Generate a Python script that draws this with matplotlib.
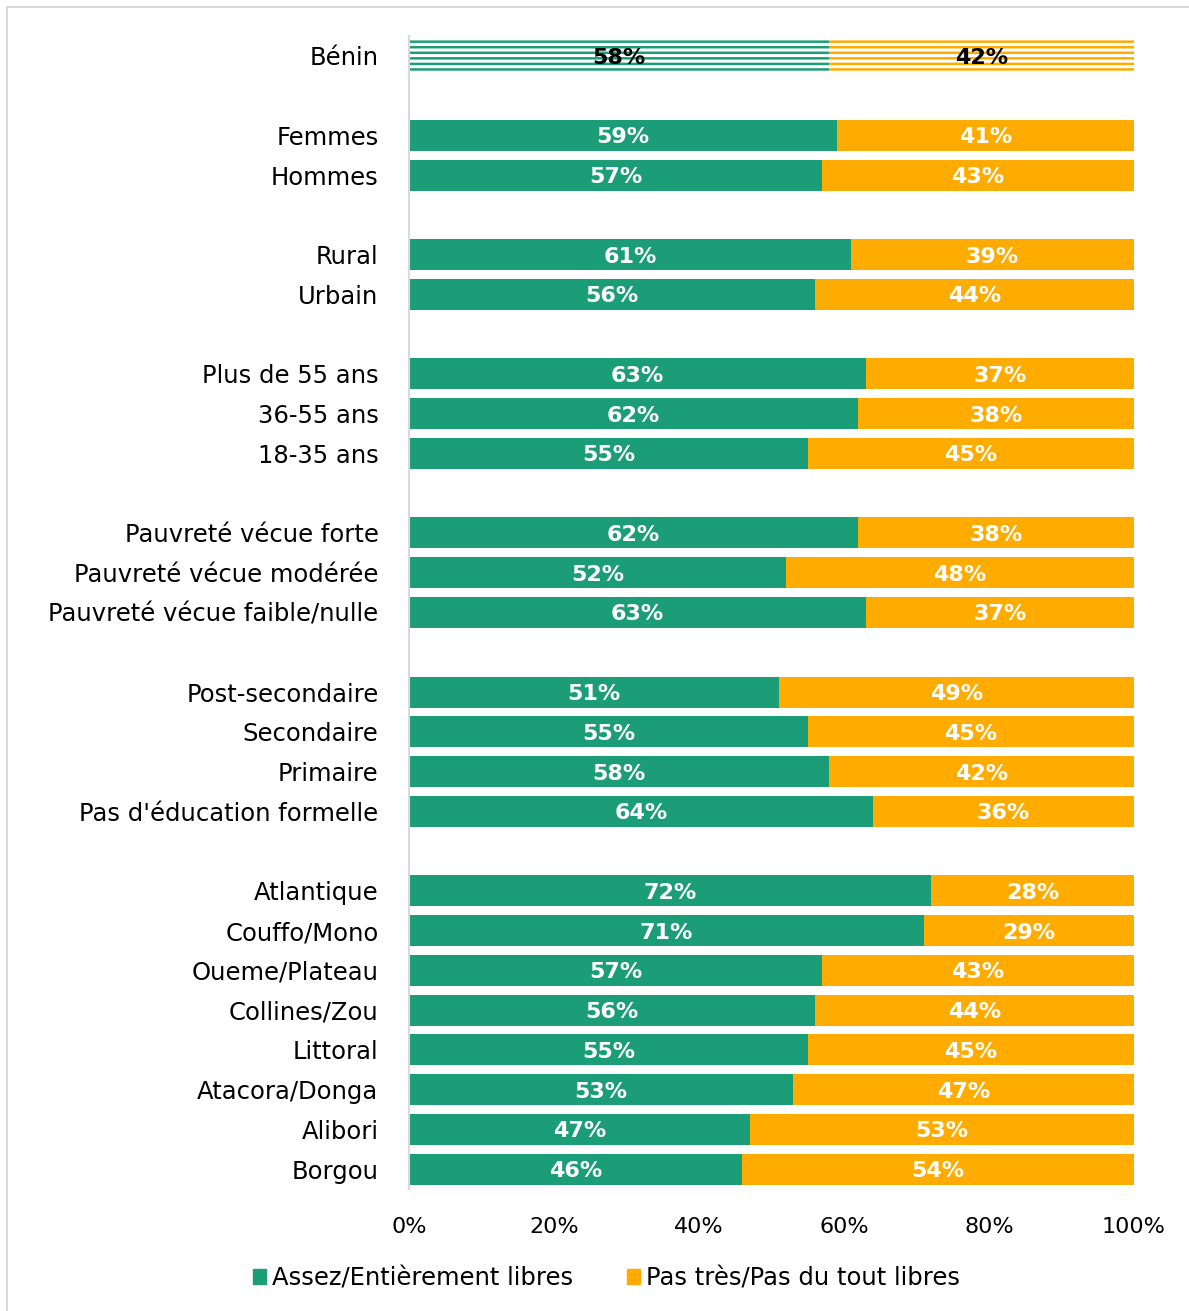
import matplotlib.pyplot as plt
import matplotlib.patches as mpatches

plt.rcParams["font.family"] = ["DejaVu Sans"]
plt.rcParams["hatch.linewidth"] = 1.8

GREEN = "#1b9e77"
ORANGE = "#ffab00"

labels = [
    "Bénin",
    "Femmes", "Hommes",
    "Rural", "Urbain",
    "Plus de 55 ans", "36-55 ans", "18-35 ans",
    "Pauvreté vécue forte", "Pauvreté vécue modérée", "Pauvreté vécue faible/nulle",
    "Post-secondaire", "Secondaire", "Primaire", "Pas d'éducation formelle",
    "Atlantique", "Couffo/Mono", "Oueme/Plateau", "Collines/Zou", "Littoral",
    "Atacora/Donga", "Alibori", "Borgou",
]
libres = [58, 59, 57, 61, 56, 63, 62, 55, 62, 52, 63, 51, 55, 58, 64,
          72, 71, 57, 56, 55, 53, 47, 46]
pas_libres = [42, 41, 43, 39, 44, 37, 38, 45, 38, 48, 37, 49, 45, 42, 36,
              28, 29, 43, 44, 45, 47, 53, 54]
# group sizes (blank row between groups)
groups = [1, 2, 2, 3, 3, 4, 8]

rows = []
pos = 0
for g in groups:
    for i in range(g):
        rows.append(pos)
        pos += 1
    pos += 1

fig = plt.figure(figsize=(11.89, 13.11), dpi=100)
ax = fig.add_axes([0.344, 0.0931, 0.6097, 0.8794])

h = 0.78
for k, (y, a, b) in enumerate(zip(rows, libres, pas_libres)):
    if k == 0:
        ax.barh(y, a, height=h, color="white", edgecolor=GREEN, hatch="---", linewidth=0)
        ax.barh(y, b, left=a, height=h, color="white", edgecolor=ORANGE, hatch="---", linewidth=0)
        tc = "black"
    else:
        ax.barh(y, a, height=h, color=GREEN, linewidth=0)
        ax.barh(y, b, left=a, height=h, color=ORANGE, linewidth=0)
        tc = "white"
    ax.text(a / 2, y + 0.05, f"{a}%", ha="center", va="center", color=tc,
            fontsize=16, fontweight="bold")
    ax.text(a + b / 2, y + 0.05, f"{b}%", ha="center", va="center", color=tc,
            fontsize=16, fontweight="bold")

ax.set_ylim(rows[-1] + 0.5, -0.5)
ax.set_xlim(0, 100)
ax.set_yticks(rows)
ax.set_yticklabels(labels, fontsize=17.5)
ax.set_xticks([0, 20, 40, 60, 80, 100])
ax.set_xticklabels([f"{v}%" for v in [0, 20, 40, 60, 80, 100]], fontsize=16)
ax.tick_params(axis="y", length=0, pad=22)
ax.tick_params(axis="x", length=0, pad=20)
for s in ["top", "right", "bottom"]:
    ax.spines[s].set_visible(False)
ax.spines["left"].set_color("#d9d9d9")
ax.spines["left"].set_linewidth(1.5)

handles = [mpatches.Patch(color=GREEN, label="Assez/Entièrement libres"),
           mpatches.Patch(color=ORANGE, label="Pas très/Pas du tout libres")]
fig.legend(handles=handles, loc="center", bbox_to_anchor=(0.51, 0.025), ncol=2,
           frameon=False, fontsize=17.5, handlelength=0.55, handleheight=0.55,
           handletextpad=0.25, columnspacing=2.2)

# light frame around the chart
fig.patches.append(mpatches.Rectangle((0.006, -0.01), 1.0, 1.0045, transform=fig.transFigure,
                                      fill=False, edgecolor="#d9d9d9", linewidth=1.5))

fig.savefig("out.png", dpi=100)
